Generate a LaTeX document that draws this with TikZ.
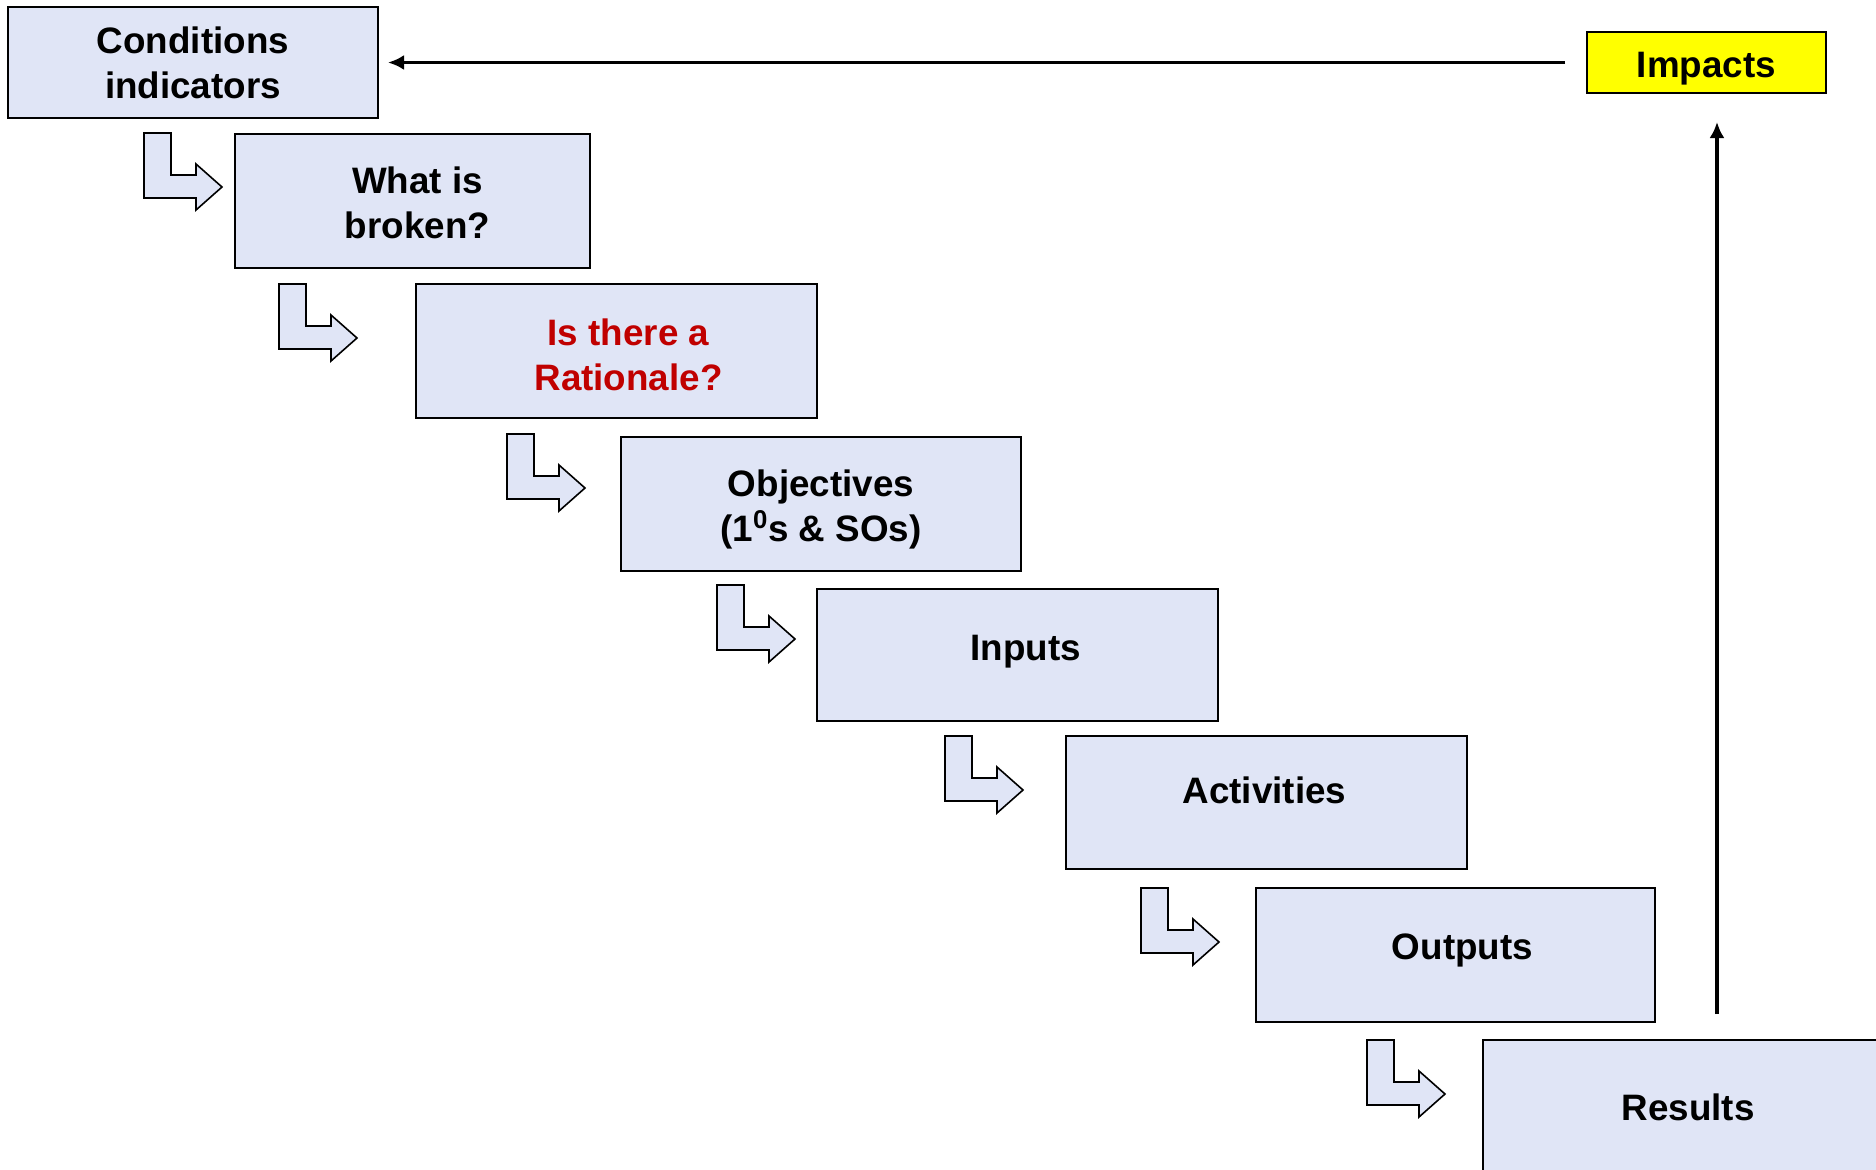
\documentclass[tikz,border=0pt]{standalone}
\usepackage{fontspec}
\setmainfont{Liberation Sans}
\usetikzlibrary{arrows.meta}
\definecolor{boxfill}{RGB}{224,229,246}
\definecolor{ratred}{RGB}{192,0,0}
\definecolor{impyellow}{RGB}{255,255,0}
\begin{document}
\begin{tikzpicture}[x=0.5pt,y=-0.5pt,
  stage/.style={draw=black,line width=1pt,fill=boxfill,rectangle,inner sep=0pt},
  stagetext/.style={inner sep=0pt,align=center,font=\fontsize{18.4}{22.5}\selectfont\bfseries},
  conn/.style={line width=1.7pt,-{Latex[length=8pt,width=7.5pt]}},
  bentline/.style={draw=black,fill=boxfill,line width=0.8pt,line join=miter},
  bentarrow/.pic={\path[bentline] (0,0) -- (27,0) -- (27,42) -- (52,42) -- (52,31)
      -- (78,54) -- (52,77) -- (52,65) -- (0,65) -- cycle;}]
\useasboundingbox (0,0) rectangle (1876,1169);
\clip (0,0) rectangle (1876,1169);

% stages of the chain
\node[stage,minimum width=185pt,minimum height=55.5pt] (cond) at (193,62.5) {};
\node[stage,minimum width=177.5pt,minimum height=67pt] (brk) at (412.5,201) {};
\node[stage,minimum width=200.5pt,minimum height=67pt] (rat) at (616.5,351) {};
\node[stage,minimum width=200pt,minimum height=67pt] (obj) at (821,504) {};
\node[stage,minimum width=200.5pt,minimum height=66pt] (inp) at (1017.5,655) {};
\node[stage,minimum width=200.5pt,minimum height=66.5pt] (act) at (1266.5,802.5) {};
\node[stage,minimum width=199.5pt,minimum height=67pt] (out) at (1455.5,955) {};
\node[stage,minimum width=200pt,minimum height=67pt] (res) at (1683,1107) {};
\node[stage,fill=impyellow,minimum width=119.5pt,minimum height=30.5pt] (imp) at (1706.5,62.5) {};

% stage labels
\node[stagetext] (cond-t) at (cond.center) {Conditions\\indicators};
\node[stagetext] (brk-t) at ([xshift=2.5pt,yshift=-1pt]brk.center) {What is\\broken?};
\node[stagetext,text=ratred] (rat-t) at ([xshift=6pt,yshift=-2pt]rat.center) {Is there a\\Rationale?};
\node[stagetext] (obj-t) at ([yshift=-2.5pt]obj.center) {Objectives\\(1\textsuperscript{0}s \& SOs)};
\node[stagetext] (inp-t) at ([xshift=4pt,yshift=1.8pt]inp.center) {Inputs};
\node[stagetext] (act-t) at ([xshift=-1pt,yshift=6pt]act.center) {Activities};
\node[stagetext] (out-t) at ([xshift=3.5pt,yshift=2.5pt]out.center) {Outputs};
\node[stagetext] (res-t) at ([xshift=2.5pt]res.center) {Results};
\node[stagetext] (imp-t) at ([yshift=-3pt]imp.center) {Impacts};

% step arrows between stages
\pic (s1) at (144,133) {bentarrow};
\pic (s2) at (279,284) {bentarrow};
\pic (s3) at (507,434) {bentarrow};
\pic (s4) at (717,585) {bentarrow};
\pic (s5) at (945,736) {bentarrow};
\pic (s6) at (1141,888) {bentarrow};
\pic (s7) at (1367,1040) {bentarrow};

% feedback connectors
\coordinate (vx) at (1717,0);
\draw[conn,shorten <=12.5pt,shorten >=14pt] (res.north -| vx) -- (imp.south -| vx);
\draw[conn,shorten <=10.5pt,shorten >=4.5pt] (imp.west) -- (cond.east |- imp.west);
\end{tikzpicture}
\end{document}
